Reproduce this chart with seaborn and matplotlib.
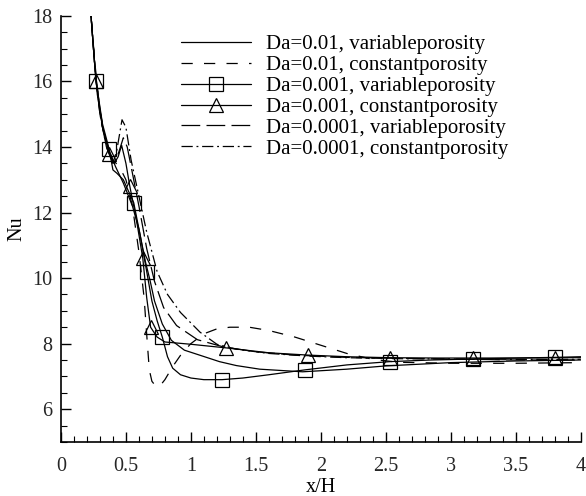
import matplotlib
matplotlib.use("Agg")
import matplotlib.pyplot as plt
from matplotlib.ticker import MultipleLocator
import seaborn as sns

# ---- data ----
labels = [
    "Da=0.01, variableporosity",
    "Da=0.01, constantporosity",
    "Da=0.001, variableporosity",
    "Da=0.001, constantporosity",
    "Da=0.0001, variableporosity",
    "Da=0.0001, constantporosity",
]

x_a = [0.22, 0.25, 0.28, 0.32, 0.37, 0.42, 0.48, 0.55, 0.60, 0.65, 0.685, 0.72, 0.78, 0.85, 0.95,
       1.12, 1.22, 1.35, 1.53, 1.86, 2.2, 2.5, 3.0, 3.5, 4.0]
y_a = [18.6, 17.0, 15.6, 14.6, 13.9, 13.4, 12.9, 12.2, 11.5, 10.5, 9.94, 9.3, 8.6, 8.1, 7.8,
       7.58, 7.45, 7.33, 7.22, 7.14, 7.22, 7.32, 7.42, 7.47, 7.5]

x_b = [0.22, 0.26, 0.30, 0.35, 0.40, 0.45, 0.50, 0.55, 0.60, 0.64, 0.665, 0.68, 0.70, 0.73, 0.76,
       0.80, 0.86, 0.93, 1.0, 1.1, 1.2, 1.3, 1.45, 1.6, 1.8, 2.0, 2.2, 2.4, 2.6, 3.0, 3.5, 4.0]
y_b = [18.6, 16.6, 15.1, 14.1, 13.6, 13.4, 13.0, 12.2, 10.8, 9.4, 8.0, 7.2, 6.85, 6.7, 6.7,
       6.9, 7.3, 7.7, 8.0, 8.3, 8.45, 8.5, 8.5, 8.4, 8.2, 7.95, 7.7, 7.52, 7.43, 7.4, 7.4, 7.42]

x_c = [0.22, 0.27, 0.32, 0.37, 0.40, 0.43, 0.48, 0.56, 0.61, 0.66, 0.70, 0.74, 0.78, 0.82, 0.86,
       0.92, 1.0, 1.1, 1.24, 1.4, 1.6, 1.88, 2.2, 2.53, 2.85, 3.17, 3.5, 3.8, 4.0]
y_c = [18.6, 16.0, 14.7, 13.95, 13.3, 13.2, 13.0, 12.3, 11.3, 10.2, 9.3, 8.7, 8.2, 7.6, 7.25,
       7.05, 6.95, 6.9, 6.9, 6.95, 7.05, 7.2, 7.35, 7.45, 7.5, 7.53, 7.56, 7.58, 7.6]
mk_c = [1, 3, 7, 9, 12, 18, 21, 23, 25, 27]

x_d = [0.22, 0.27, 0.32, 0.37, 0.41, 0.44, 0.467, 0.50, 0.53, 0.58, 0.63, 0.66, 0.69, 0.74, 0.80,
       1.0, 1.27, 1.6, 1.9, 2.2, 2.53, 2.9, 3.17, 3.5, 3.8, 4.0]
y_d = [18.6, 16.0, 14.6, 13.8, 13.5, 13.7, 14.05, 13.5, 12.8, 11.8, 10.6, 9.4, 8.5, 8.2, 8.05,
       7.98, 7.87, 7.72, 7.65, 7.6, 7.57, 7.56, 7.56, 7.56, 7.57, 7.57]
mk_d = [1, 3, 8, 10, 12, 16, 18, 20, 22, 24]

x_e = [0.22, 0.26, 0.30, 0.35, 0.39, 0.42, 0.45, 0.48, 0.51, 0.55, 0.60, 0.66, 0.72, 0.79, 0.89,
       1.05, 1.25, 1.5, 1.8, 2.2, 2.6, 3.0, 3.5, 4.0]
y_e = [18.6, 16.5, 15.0, 14.0, 13.6, 13.55, 13.9, 14.28, 14.0, 13.2, 12.2, 10.9, 9.9, 9.1, 8.55,
       8.12, 7.9, 7.75, 7.65, 7.58, 7.55, 7.53, 7.5, 7.5]

x_f = [0.22, 0.26, 0.30, 0.35, 0.40, 0.43, 0.47, 0.50, 0.54, 0.60, 0.66, 0.74, 0.82, 0.92, 1.07,
       1.2, 1.35, 1.6, 1.9, 2.2, 2.6, 3.0, 3.5, 4.0]
y_f = [18.6, 16.5, 15.0, 14.0, 13.5, 13.9, 14.83, 14.6, 13.6, 12.5, 11.4, 10.2, 9.5, 8.95, 8.35,
       7.98, 7.83, 7.7, 7.62, 7.57, 7.54, 7.53, 7.52, 7.52]

series = [
    (x_a, y_a, dict(linestyle="-")),
    (x_b, y_b, dict(linestyle=(0, (9, 9)))),
    (x_c, y_c, dict(linestyle="-", marker="s", markevery=mk_c)),
    (x_d, y_d, dict(linestyle="-", marker="^", markevery=mk_d)),
    (x_e, y_e, dict(linestyle=(0, (15, 5)))),
    (x_f, y_f, dict(linestyle=(0, (9, 3, 1.5, 3)))),
]

sns.set_theme(style="ticks")
plt.rcParams["font.family"] = ["Liberation Serif", "DejaVu Serif"]

fig = plt.figure(figsize=(5.86, 4.96), dpi=100)
ax = fig.add_axes([0.104, 0.109, 0.887, 0.859])

for (xs, ys, st), lab in zip(series, labels):
    sns.lineplot(x=xs, y=ys, ax=ax, color="black", linewidth=0.9, sort=False,
                 estimator=None, label=lab, markersize=9.5, fillstyle="none",
                 markeredgewidth=0.9, markeredgecolor="black", **st)

ax.set_xlim(0, 4)
ax.set_ylim(5, 18)
ax.xaxis.set_minor_locator(MultipleLocator(0.1))
ax.yaxis.set_minor_locator(MultipleLocator(0.5))
ax.set_xticks([0, 0.5, 1, 1.5, 2, 2.5, 3, 3.5, 4])
ax.set_xticklabels(["0", "0.5", "1", "1.5", "2", "2.5", "3", "3.5", "4"])
ax.set_yticks([6, 8, 10, 12, 14, 16, 18])
ax.set_yticklabels(["6", "8", "10", "12", "14", "16", "18"])
ax.tick_params(which="major", direction="in", length=7, width=1, labelsize=14.5, color="black")
ax.tick_params(axis="x", which="major", pad=11)
ax.tick_params(axis="y", which="major", pad=6)
ax.tick_params(which="minor", direction="in", length=4, width=0.8, color="black")
for s in ["top", "right"]:
    ax.spines[s].set_visible(False)
for s in ["left", "bottom"]:
    ax.spines[s].set_color("black")
    ax.spines[s].set_linewidth(1.2)

ax.set_xlabel("x/H", fontsize=14.5, labelpad=1, color="black")
ax.set_ylabel("Nu", fontsize=14.5, labelpad=4, color="black")

leg = ax.legend(loc="upper left", bbox_to_anchor=(0.215, 0.975), frameon=False,
                fontsize=15, handlelength=3.37, handletextpad=0.7,
                labelspacing=0.06, borderaxespad=0)
for t in leg.get_texts():
    t.set_color("black")

fig.savefig("out.png", dpi=100)
